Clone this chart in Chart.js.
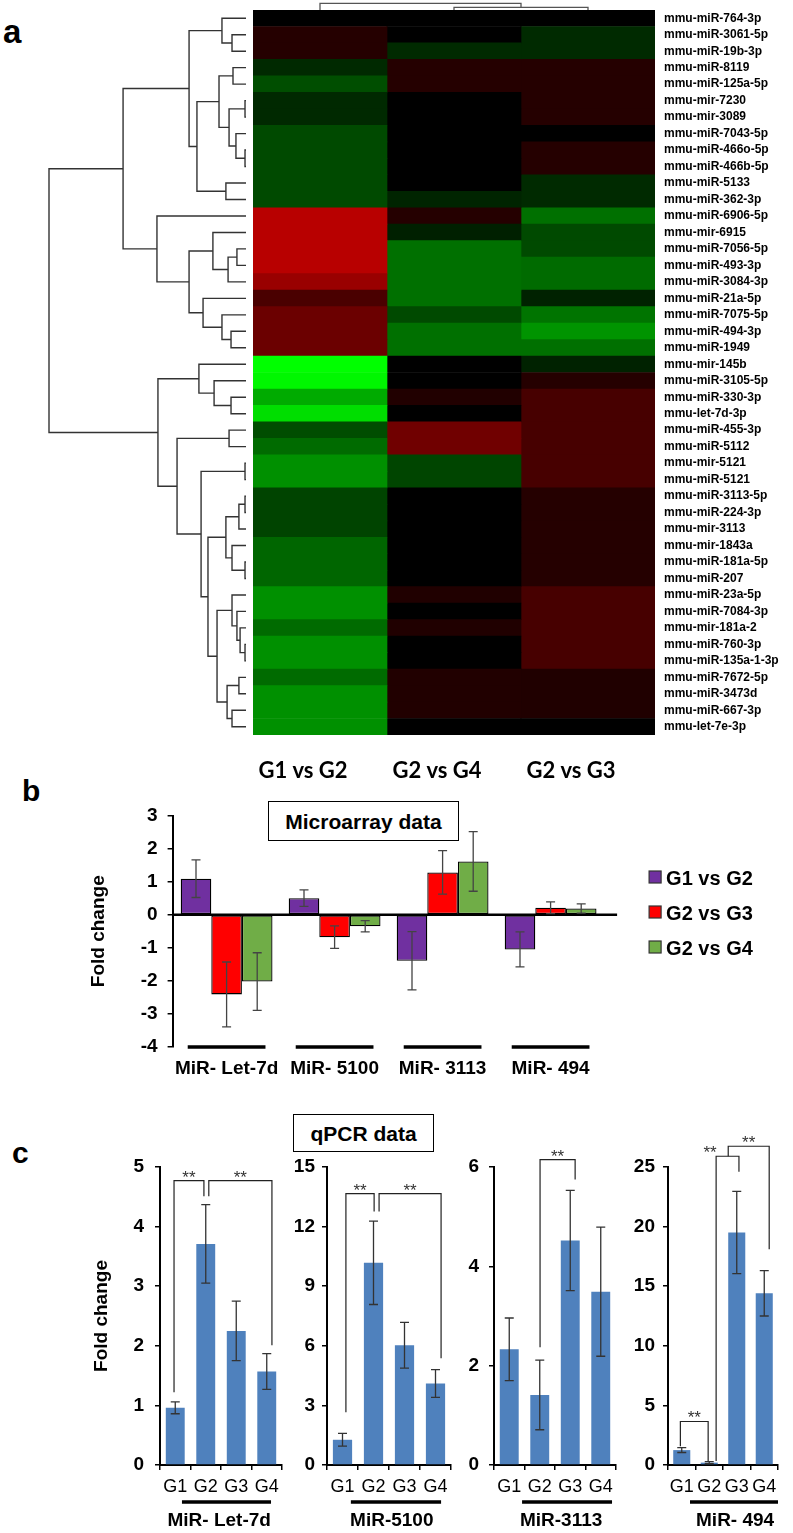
<!DOCTYPE html>
<html><head><meta charset="utf-8">
<script src="https://cdn.jsdelivr.net/npm/chart.js@4.4.1/dist/chart.umd.min.js"></script>
<style>
html,body{margin:0;padding:0;background:#fff;}
#page{position:relative;width:793px;height:1533px;overflow:hidden;font-family:'Liberation Sans',Arial,sans-serif;background:#fff;}
canvas{position:absolute;}
.lbl{position:absolute;font-weight:bold;line-height:1;color:#000;}
.box{position:absolute;box-sizing:border-box;border:1.5px solid #000;display:flex;align-items:center;justify-content:center;font-weight:bold;font-size:21px;color:#000;background:#fff;line-height:1;}
</style></head><body>
<div id="page">
<canvas id="dendro" width="205" height="725" style="left:45px;top:10px;width:205px;height:725px;"></canvas>
<canvas id="heat" width="540" height="790" style="left:253px;top:0px;width:540px;height:790px;"></canvas>
<canvas id="micro" width="713" height="300" style="left:80px;top:790px;width:713px;height:300px;"></canvas>
<canvas id="q1"></canvas>
<canvas id="q2"></canvas>
<canvas id="q3"></canvas>
<canvas id="q4"></canvas>
<div class="lbl" style="left:3px;top:15px;font-size:33px;">a</div>
<div class="lbl" style="left:22px;top:776px;font-size:30px;">b</div>
<div class="lbl" style="left:12px;top:1138px;font-size:30px;">c</div>
<div class="box" style="left:268px;top:801px;width:191px;height:40px;">Microarray data</div>
<div class="box" style="left:293px;top:1114px;width:141px;height:38px;">qPCR data</div>
</div>
<script>
// ---------------- DATA ----------------
const mirnaLabels = ['mmu-miR-764-3p','mmu-miR-3061-5p','mmu-miR-19b-3p','mmu-miR-8119','mmu-miR-125a-5p','mmu-mir-7230','mmu-mir-3089','mmu-miR-7043-5p','mmu-miR-466o-5p','mmu-miR-466b-5p','mmu-miR-5133','mmu-miR-362-3p','mmu-miR-6906-5p','mmu-mir-6915','mmu-miR-7056-5p','mmu-miR-493-3p','mmu-miR-3084-3p','mmu-miR-21a-5p','mmu-miR-7075-5p','mmu-miR-494-3p','mmu-miR-1949','mmu-mir-145b','mmu-miR-3105-5p','mmu-miR-330-3p','mmu-let-7d-3p','mmu-miR-455-3p','mmu-miR-5112','mmu-mir-5121','mmu-miR-5121','mmu-miR-3113-5p','mmu-miR-224-3p','mmu-mir-3113','mmu-mir-1843a','mmu-miR-181a-5p','mmu-miR-207','mmu-miR-23a-5p','mmu-miR-7084-3p','mmu-mir-181a-2','mmu-miR-760-3p','mmu-miR-135a-1-3p','mmu-miR-7672-5p','mmu-miR-3473d','mmu-miR-667-3p','mmu-let-7e-3p'];
const heatColumns = ['G1 vs G2','G2 vs G4','G2 vs G3'];
// positive = up (red), negative = down (green), scaled -1..1
const heatG1vsG2 = [0,0.145,0.145,-0.16,-0.305,-0.16,-0.16,-0.29,-0.29,-0.29,-0.29,-0.29,0.72,0.72,0.72,0.72,0.6,0.29,0.42,0.42,0.42,-1,-0.97,-0.67,-0.87,-0.3,-0.42,-0.565,-0.565,-0.265,-0.265,-0.265,-0.4,-0.4,-0.4,-0.565,-0.565,-0.42,-0.565,-0.565,-0.42,-0.565,-0.565,-0.565];
const heatG2vsG4 = [0,0,-0.165,0.145,0.145,0,0,0,0,0,0,-0.14,0.145,-0.125,-0.44,-0.44,-0.44,-0.44,-0.29,-0.44,-0.44,0,0,0.13,0,0.44,0.44,-0.27,-0.27,0,0,0,0,0,0,0.125,0,0.125,0,0,0.13,0.13,0.13,0];
const heatG2vsG3 = [0,-0.165,-0.165,0.145,0.145,0.145,0.145,0,0.145,0.145,-0.165,-0.165,-0.44,-0.29,-0.29,-0.42,-0.42,-0.135,-0.455,-0.58,-0.44,-0.135,0.145,0.28,0.28,0.28,0.28,0.28,0.28,0.145,0.145,0.145,0.145,0.145,0.145,0.28,0.28,0.28,0.28,0.28,0.125,0.125,0.125,0];
// row dendrogram merges: [a, b, distance]; positive = row (1-based), negative = earlier merge
const rowMerges = [[2,3,0.071],[1,-1,0.122],[4,5,0.066],[6,7,0.005],[9,10,0.005],[8,-5,0.051],[-4,-6,0.086],[-3,-7,0.137],[11,12,0.102],[-8,-9,0.249],[-2,-10,0.289],[15,16,0.046],[-12,17,0.091],[14,-13,0.168],[20,21,0.076],[19,-15,0.122],[18,-16,0.218],[-14,-17,0.289],[13,-18,0.452],[-11,-19,0.624],[24,25,0.076],[23,-21,0.162],[22,-22,0.239],[26,27,0.086],[28,29,0.005],[30,31,0.005],[-26,32,0.036],[34,35,0.005],[33,-28,0.071],[-27,-29,0.102],[39,40,0.005],[38,-31,0.030],[37,-32,0.046],[36,-33,0.071],[41,42,0.036],[43,44,0.071],[-35,-36,0.096],[-34,-37,0.147],[-30,-38,0.193],[-25,-39,0.228],[-24,-40,0.350],[-23,-41,0.447],[-20,-42,1.0]];
const colMerges = [[2,3,0.4],[1,-1,1.0]];

const microLabels = ['MiR- Let-7d','MiR- 5100','MiR- 3113','MiR- 494'];
const microSeries = ['G1 vs G2','G2 vs G3','G2 vs G4'];
const microG1vsG2 = [1.09,0.5,-1.39,-1.05];
const microG1vsG2Err = [0.57,0.25,0.88,0.53];
const microG2vsG3 = [-2.41,-0.68,1.28,0.21];
const microG2vsG3Err = [0.98,0.34,0.66,0.18];
const microG2vsG4 = [-2.02,-0.35,1.61,0.19];
const microG2vsG4Err = [0.87,0.17,0.9,0.14];

const qpcrGroups = ['G1','G2','G3','G4'];
const let7dFold = [0.96,3.71,2.25,1.57];
const let7dErr = [0.1,0.66,0.5,0.3];
const mir5100Fold = [1.27,10.18,6.03,4.1];
const mir5100Err = [0.32,2.1,1.15,0.7];
const mir3113Fold = [2.33,1.41,4.52,3.49];
const mir3113Err = [0.63,0.7,1.01,1.3];
const mir494Fold = [1.25,0.2,19.5,14.4];
const mir494Err = [0.2,0.08,3.45,1.9];
// significance brackets: category index positions and y values
const let7dBrackets = [{from:-0.04,to:0.94,top:4.77,dropFrom:1.22,dropTo:4.51},{from:1.1,to:3.17,top:4.77,dropFrom:4.51,dropTo:2.01}];
const mir5100Brackets = [{from:0.11,to:1.02,top:13.66,dropFrom:2.66,dropTo:12.76},{from:1.18,to:3.18,top:13.66,dropFrom:12.76,dropTo:5.37}];
const mir3113Brackets = [{from:1.01,to:2.16,top:6.15,dropFrom:2.37,dropTo:5.75}];
const mir494Brackets = [{from:-0.05,to:0.96,top:3.65,dropFrom:1.58,dropTo:0.33},{from:1.25,to:2.08,top:25.9,dropFrom:0.33,dropTo:24.6,star:1.03},{from:1.69,to:3.18,top:26.74,dropFrom:25.9,dropTo:18.1}];

// ---------------- HELPERS ----------------
const FF = "'Liberation Sans', Arial, Helvetica, sans-serif";
Chart.defaults.font.family = FF;
Chart.defaults.color = '#000';
function zeroPad(s){ s.paddingTop=0; s.paddingBottom=0; s.paddingLeft=0; s.paddingRight=0; }
function heatColor(v){ const c = Math.round(Math.min(1, Math.abs(v))*255); return v >= 0 ? `rgb(${c},0,0)` : `rgb(0,${c},0)`; }
function buildTree(merges, leafPos){
  const nodes = [], segs = [];
  const at = r => r > 0 ? {p: leafPos(r), h: 0} : nodes[-r-1];
  merges.forEach(([a,b,h]) => {
    const A = at(a), B = at(b);
    segs.push([[A.p,A.h],[A.p,h],[B.p,h],[B.p,B.h]]);
    nodes.push({p:(A.p+B.p)/2, h});
  });
  return segs;
}
const noPlug = {legend:{display:false}, tooltip:{enabled:false}};

// ---------------- LEFT DENDROGRAM ----------------
const rowSegs = buildTree(rowMerges, r => r - 0.5);
new Chart(document.getElementById('dendro'), {
  type: 'scatter',
  data: { datasets: rowSegs.map(seg => ({ data: seg.map(([p,h]) => ({x:h, y:p})), showLine:true, pointRadius:0, borderColor:'#333', borderWidth:1.4, clip:false, fill:false })) },
  options: { responsive:false, animation:false, events:[], layout:{padding:{left:4,right:4,top:0,bottom:0}}, plugins:noPlug,
    scales: { x:{type:'linear',min:0,max:1,reverse:true,display:false}, y:{type:'linear',min:0,max:44,reverse:true,display:false} } }
});

// ---------------- HEATMAP ----------------
const heatData = [heatG1vsG2, heatG2vsG4, heatG2vsG3];
const heatExtras = {
  id:'heatExtras',
  afterDraw(chart){
    const {ctx, chartArea, scales:{x}} = chart;
    ctx.save();
    const segs = buildTree(colMerges, r => x.getPixelForValue(r - 0.5));
    const hy = h => chartArea.top - h*6.7;
    ctx.strokeStyle = '#555'; ctx.lineWidth = 1.3;
    segs.forEach(seg => { ctx.beginPath(); seg.forEach(([p,h],k) => k ? ctx.lineTo(p,hy(h)) : ctx.moveTo(p,hy(h))); ctx.stroke(); });
    ctx.fillStyle = '#000'; ctx.font = "bold 22px Lato, 'Liberation Sans', sans-serif";
    ctx.textAlign = 'center'; ctx.textBaseline = 'alphabetic';
    heatColumns.forEach((c,j) => ctx.fillText(c, x.getPixelForValue(j+0.5) - 17, chartArea.bottom + 43));
    ctx.restore();
  }
};
new Chart(document.getElementById('heat'), {
  type:'bar',
  data:{ labels: mirnaLabels, datasets: heatColumns.map((c,j) => ({ label:c, data: mirnaLabels.map(() => 1), backgroundColor: heatData[j].map(heatColor), borderWidth:0, barPercentage:1, categoryPercentage:1 })) },
  options:{ indexAxis:'y', responsive:false, animation:false, events:[],
    layout:{padding:{top:10,bottom:55,left:0,right:0}}, plugins:noPlug,
    scales:{
      x:{stacked:true, min:0, max:3, display:false},
      y:{stacked:true, position:'right', grid:{display:false, drawTicks:false}, border:{display:false},
         ticks:{autoSkip:false, padding:9, color:'#000', font:{family:FF, size:12, weight:'bold'}},
         afterFit: s => { s.width = 138; zeroPad(s); } }
    } },
  plugins:[heatExtras]
});

// ---------------- MICROARRAY (b) ----------------
function drawErrors(chart, capW, color){
  const {ctx, scales:{y}} = chart;
  ctx.save(); ctx.strokeStyle = color; ctx.lineWidth = 1.3;
  chart.data.datasets.forEach((ds, di) => {
    chart.getDatasetMeta(di).data.forEach((bar, i) => {
      const v = ds.data[i], e = ds.errors[i];
      const yt = y.getPixelForValue(v+e), yb = y.getPixelForValue(v-e);
      ctx.beginPath();
      ctx.moveTo(bar.x, yt); ctx.lineTo(bar.x, yb);
      ctx.moveTo(bar.x-capW/2, yt); ctx.lineTo(bar.x+capW/2, yt);
      ctx.moveTo(bar.x-capW/2, yb); ctx.lineTo(bar.x+capW/2, yb);
      ctx.stroke();
    });
  });
  ctx.restore();
}
const microExtras = {
  id:'microExtras',
  afterDatasetsDraw(chart){
    const {ctx, chartArea, scales:{x,y}} = chart;
    ctx.save();
    const y0 = y.getPixelForValue(0);
    ctx.strokeStyle = '#000'; ctx.lineWidth = 2.5;
    ctx.beginPath(); ctx.moveTo(chartArea.left, y0); ctx.lineTo(chartArea.right + 12.5, y0); ctx.stroke();
    ctx.restore();
    drawErrors(chart, 9, '#444');
    ctx.save();
    const cw = x.getPixelForValue(1) - x.getPixelForValue(0);
    ctx.strokeStyle = '#000'; ctx.lineWidth = 3.3;
    microLabels.forEach((l,i) => { const cx = x.getPixelForValue(i); ctx.beginPath(); ctx.moveTo(cx-0.36*cw, chartArea.bottom); ctx.lineTo(cx+0.36*cw, chartArea.bottom); ctx.stroke(); });
    // legend
    ctx.font = 'bold 20px ' + FF; ctx.textAlign = 'left'; ctx.textBaseline = 'alphabetic';
    chart.data.datasets.forEach((ds,i) => {
      const lx = chartArea.right + 44.5, ly = chartArea.top + 55.5 + 35*i;
      ctx.fillStyle = ds.backgroundColor; ctx.fillRect(lx, ly, 12, 12);
      ctx.strokeStyle = '#333'; ctx.lineWidth = 1.2; ctx.strokeRect(lx, ly, 12, 12);
      ctx.fillStyle = '#000'; ctx.fillText(ds.label, lx + 17, ly + 13.5);
    });
    ctx.restore();
  }
};
const microColors = ['#7030a0','#ff0000','#70ad47'];
const microVals = [microG1vsG2, microG2vsG3, microG2vsG4];
const microErrs = [microG1vsG2Err, microG2vsG3Err, microG2vsG4Err];
new Chart(document.getElementById('micro'), {
  type:'bar',
  data:{ labels: microLabels, datasets: microSeries.map((s,i) => ({ label:s, data: microVals[i], errors: microErrs[i], backgroundColor: microColors[i], borderColor:'#000', borderWidth:1.3, borderSkipped:false, categoryPercentage:0.85, barPercentage:1 })) },
  options:{ responsive:false, animation:false, events:[],
    layout:{padding:{top:25.5,right:188.4,left:0,bottom:0}}, plugins:noPlug,
    scales:{
      x:{ grid:{display:false, drawTicks:false}, border:{display:false},
          ticks:{font:{family:FF,size:19,weight:'bold'}, color:'#000', padding:10, autoSkip:false, maxRotation:0},
          afterFit: s => { s.height = 43; zeroPad(s); } },
      y:{ min:-4, max:3, ticks:{stepSize:1, font:{family:FF,size:19,weight:'bold'}, color:'#000', padding:10},
          grid:{drawOnChartArea:false, drawTicks:true, tickLength:5, color:'#000', lineWidth:1.5},
          border:{display:true, color:'#000', width:2},
          title:{display:true, text:'Fold change', color:'#000', font:{family:FF,size:19,weight:'bold'}, padding:{top:7.3,bottom:0}},
          afterFit: s => { s.width = 92.6; zeroPad(s); } }
    } },
  plugins:[microExtras]
});

// ---------------- qPCR (c) ----------------
function qpcrPlugin(brackets, label, cfg){
  return {
    id:'qpcrExtras',
    afterDatasetsDraw(chart){
      drawErrors(chart, 9, '#333');
      const {ctx, chartArea, scales:{x,y}} = chart;
      ctx.save();
      ctx.strokeStyle = '#222'; ctx.lineWidth = 1.2; ctx.fillStyle = '#333';
      ctx.font = '17px ' + FF; ctx.textAlign = 'center'; ctx.textBaseline = 'alphabetic';
      brackets.forEach(b => {
        const xa = x.getPixelForValue(b.from), xb = x.getPixelForValue(b.to);
        const yt = y.getPixelForValue(b.top), ya = y.getPixelForValue(b.dropFrom), yb = y.getPixelForValue(b.dropTo);
        ctx.beginPath(); ctx.moveTo(xa, ya); ctx.lineTo(xa, yt); ctx.lineTo(xb, yt); ctx.lineTo(xb, yb); ctx.stroke();
        const sx = x.getPixelForValue(b.star !== undefined ? b.star : (b.from + b.to)/2);
        ctx.fillText('**', sx, yt + 2);
      });
      ctx.strokeStyle = '#000'; ctx.lineWidth = 3.3;
      ctx.beginPath(); ctx.moveTo(x.getPixelForValue(cfg.underline[0]), chartArea.bottom + 37); ctx.lineTo(x.getPixelForValue(cfg.underline[1]), chartArea.bottom + 37); ctx.stroke();
      ctx.fillStyle = '#000'; ctx.font = 'bold 19px ' + FF;
      ctx.fillText(label, x.getPixelForValue(cfg.labelAt), chartArea.bottom + 61);
      ctx.restore();
    }
  };
}
function makeQpcr(id, cfg, values, errors, brackets, label){
  const cv = document.getElementById(id);
  const W = cfg.canvasRight - cfg.canvasLeft, H = 413;
  cv.width = W; cv.height = H;
  cv.style.left = cfg.canvasLeft + 'px'; cv.style.top = '1120px'; cv.style.width = W + 'px'; cv.style.height = H + 'px';
  const tickGrid = {drawOnChartArea:false, drawTicks:true, tickLength:5, color:'#000', lineWidth:1.5};
  return new Chart(cv, {
    type:'bar',
    data:{ labels: qpcrGroups, datasets:[{ data: values, errors: errors, backgroundColor:'#4f81bd', borderWidth:0, barPercentage:0.62, categoryPercentage:1 }] },
    options:{ responsive:false, animation:false, events:[],
      layout:{padding:{top:47, right: cfg.canvasRight - cfg.areaRight, left:0, bottom:0}}, plugins:noPlug,
      scales:{
        x:{ grid:Object.assign({offset:true}, tickGrid), border:{display:true, color:'#000', width:2},
            ticks:{font:{family:FF,size:18}, color:'#000', padding:6, autoSkip:false, maxRotation:0},
            afterFit: s => { s.height = 68; zeroPad(s); } },
        y:{ min:0, max: cfg.max, ticks:{stepSize: cfg.step, font:{family:FF,size:19,weight:'bold'}, color:'#000', padding: cfg.tickPad},
            grid: tickGrid, border:{display:true, color:'#000', width:2},
            title: cfg.title ? {display:true, text:'Fold change', color:'#000', font:{family:FF,size:19,weight:'bold'}, padding:{top:10.3,bottom:0}} : {display:false},
            afterFit: s => { s.width = cfg.areaLeft - cfg.canvasLeft; zeroPad(s); } }
      } },
    plugins:[qpcrPlugin(brackets, label, cfg)]
  });
}
makeQpcr('q1', {canvasLeft:80, canvasRight:300, areaLeft:160, areaRight:282, max:5, step:1, tickPad:11, title:true, underline:[0.22,3.14], labelAt:1.44}, let7dFold, let7dErr, let7dBrackets, 'MiR- Let-7d');
makeQpcr('q2', {canvasLeft:290, canvasRight:465, areaLeft:327, areaRight:451, max:15, step:3, tickPad:7, underline:[0.27,3.18], labelAt:1.59}, mir5100Fold, mir5100Err, mir5100Brackets, 'MiR-5100');
makeQpcr('q3', {canvasLeft:455, canvasRight:630, areaLeft:494, areaRight:616, max:6, step:2, tickPad:10, underline:[0.42,3.37], labelAt:1.7}, mir3113Fold, mir3113Err, mir3113Brackets, 'MiR-3113');
makeQpcr('q4', {canvasLeft:625, canvasRight:793, areaLeft:668, areaRight:778, max:25, step:5, tickPad:8, underline:[0.3,3.5], labelAt:1.94}, mir494Fold, mir494Err, mir494Brackets, 'MiR- 494');
</script>
</body></html>
